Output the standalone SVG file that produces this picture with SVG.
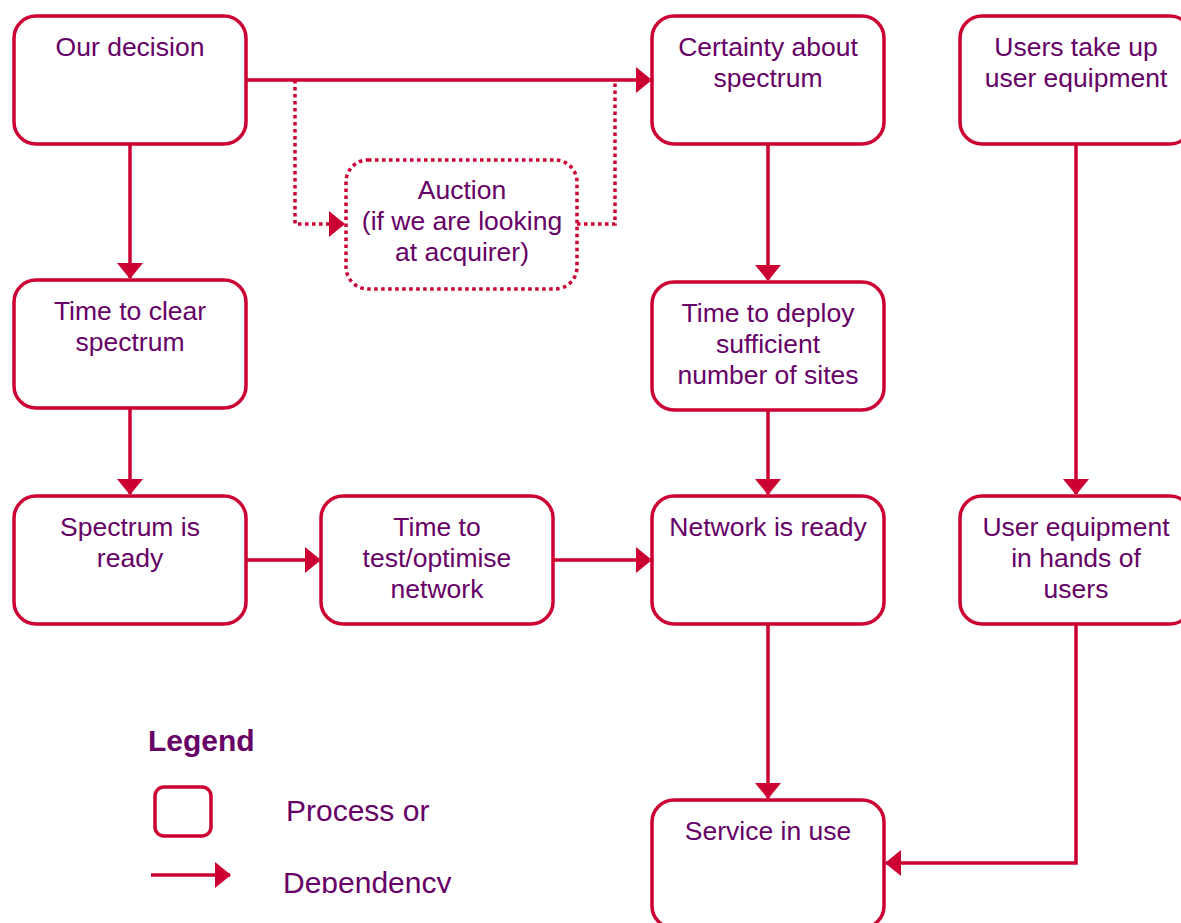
<svg xmlns="http://www.w3.org/2000/svg" width="1181" height="923" viewBox="0 0 1181 923">
<style>
.box{fill:#fff;stroke:#CC0033;stroke-width:3.5}
.dot{fill:none;stroke:#CC0033;stroke-width:3.5;stroke-dasharray:3.5 3.5}
.ln{fill:none;stroke:#CC0033;stroke-width:3.5}
.t{font-family:"Liberation Sans",Arial,sans-serif;font-size:26.5px;fill:#660066;text-anchor:middle}
.lg{font-family:"Liberation Sans",Arial,sans-serif;font-size:30px;fill:#660066}
</style>
<defs>
<marker id="ah" markerUnits="userSpaceOnUse" markerWidth="16" markerHeight="26" refX="15" refY="13" orient="auto">
<path d="M0,0 L16,13 L0,26 Z" fill="#CC0033"/>
</marker>
<clipPath id="clipB"><rect x="0" y="0" width="1181" height="893"/></clipPath>
</defs>
<rect width="1181" height="923" fill="#fff"/>
<g id="connectors">
<path class="ln" d="M246,80 H651" marker-end="url(#ah)"/>
<path class="dot" d="M295,80 V224 H344" marker-end="url(#ah)"/>
<path class="dot" d="M577,224 H615 V80"/>
<path class="ln" d="M130,144 V278" marker-end="url(#ah)"/>
<path class="ln" d="M130,408 V494" marker-end="url(#ah)"/>
<path class="ln" d="M246,560 H320" marker-end="url(#ah)"/>
<path class="ln" d="M553,560 H651" marker-end="url(#ah)"/>
<path class="ln" d="M768,144 V280" marker-end="url(#ah)"/>
<path class="ln" d="M768,410 V494" marker-end="url(#ah)"/>
<path class="ln" d="M768,624 V798" marker-end="url(#ah)"/>
<path class="ln" d="M1076,144 V494" marker-end="url(#ah)"/>
<path class="ln" d="M1076,624 V863 H886" marker-end="url(#ah)"/>
</g>
<g id="our-decision">
<rect class="box" x="14" y="16" width="232" height="128" rx="22"/>
<text class="t" x="130" y="56">Our decision</text>
</g>
<g id="auction">
<rect class="dot" x="346" y="160" width="231" height="129" rx="22"/>
<text class="t" x="462" y="199">Auction</text>
<text class="t" x="462" y="230">(if we are looking</text>
<text class="t" x="462" y="261">at acquirer)</text>
</g>
<g id="certainty">
<rect class="box" x="652" y="16" width="232" height="128" rx="22"/>
<text class="t" x="768" y="56">Certainty about</text>
<text class="t" x="768" y="87">spectrum</text>
</g>
<g id="users-take-up">
<rect class="box" x="960" y="16" width="232" height="128" rx="22"/>
<text class="t" x="1076" y="56">Users take up</text>
<text class="t" x="1076" y="87">user equipment</text>
</g>
<g id="time-to-clear">
<rect class="box" x="14" y="280" width="232" height="128" rx="22"/>
<text class="t" x="130" y="320">Time to clear</text>
<text class="t" x="130" y="351">spectrum</text>
</g>
<g id="time-to-deploy">
<rect class="box" x="652" y="282" width="232" height="128" rx="22"/>
<text class="t" x="768" y="322">Time to deploy</text>
<text class="t" x="768" y="353">sufficient</text>
<text class="t" x="768" y="384">number of sites</text>
</g>
<g id="spectrum-ready">
<rect class="box" x="14" y="496" width="232" height="128" rx="22"/>
<text class="t" x="130" y="536">Spectrum is</text>
<text class="t" x="130" y="567">ready</text>
</g>
<g id="time-to-test">
<rect class="box" x="321" y="496" width="232" height="128" rx="22"/>
<text class="t" x="437" y="536">Time to</text>
<text class="t" x="437" y="567">test/optimise</text>
<text class="t" x="437" y="598">network</text>
</g>
<g id="network-ready">
<rect class="box" x="652" y="496" width="232" height="128" rx="22"/>
<text class="t" x="768" y="536">Network is ready</text>
</g>
<g id="user-equipment">
<rect class="box" x="960" y="496" width="232" height="128" rx="22"/>
<text class="t" x="1076" y="536">User equipment</text>
<text class="t" x="1076" y="567">in hands of</text>
<text class="t" x="1076" y="598">users</text>
</g>
<g id="service-in-use">
<rect class="box" x="652" y="800" width="232" height="128" rx="22"/>
<text class="t" x="768" y="840">Service in use</text>
</g>
<g id="legend">
<text class="lg" x="148" y="751" font-weight="bold">Legend</text>
<rect class="box" x="155" y="787" width="56" height="49" rx="9"/>
<text class="lg" x="286" y="821">Process or</text>
<path class="ln" d="M151,875 H230" stroke-width="3" marker-end="url(#ah)"/>
<text class="lg" x="283" y="893" clip-path="url(#clipB)">Dependency</text>
</g>
</svg>
